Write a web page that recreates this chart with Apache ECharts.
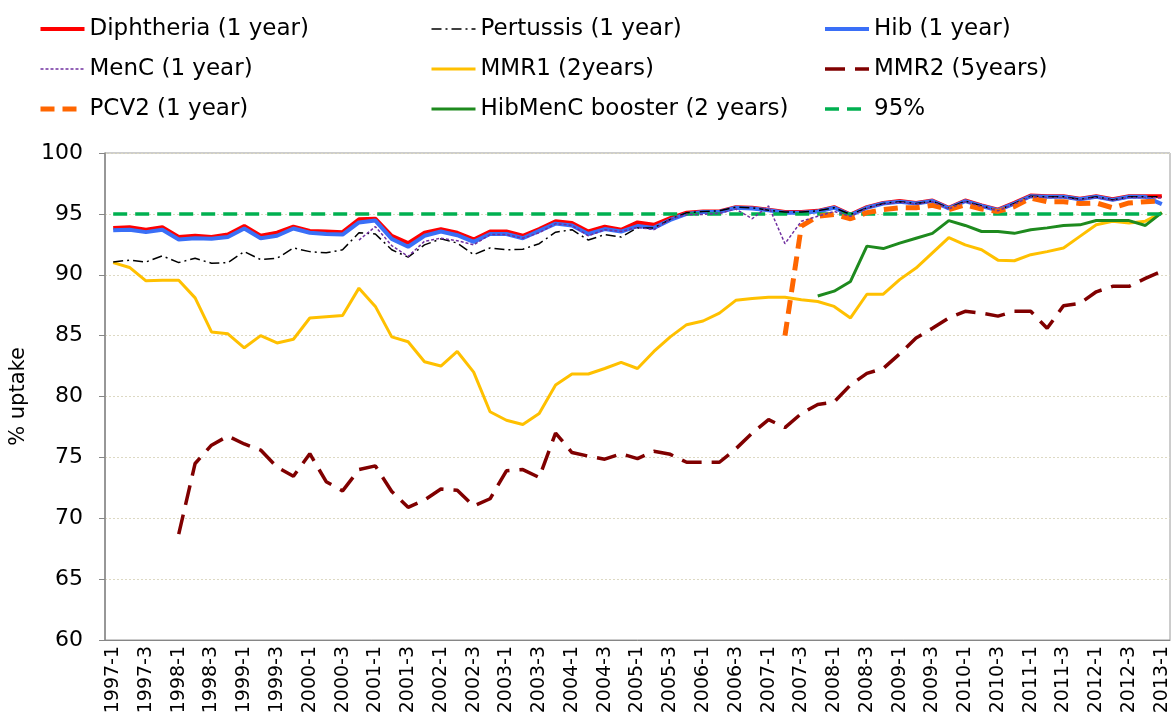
<!DOCTYPE html>
<html>
<head>
<meta charset="utf-8">
<script src="https://cdn.jsdelivr.net/npm/echarts@6/dist/echarts.min.js"></script>
<style>
  html, body { margin: 0; padding: 0; background: #fff; }
  #main { width: 1174px; height: 724px; }
</style>
</head>
<body>
<div id="main"></div>
<script>
// quarters 1997-1 .. 2013-1
const quarters = [];
for (let y = 1997; y <= 2013; y++) {
  for (let q = 1; q <= 4; q++) {
    if (y === 2013 && q > 1) break;
    quarters.push(y + '-' + q);
  }
}

const diphtheria = [93.85, 93.9, 93.7, 93.9, 93.1, 93.2, 93.1, 93.3, 94.0, 93.2, 93.45, 93.95, 93.6, 93.55, 93.5, 94.55, 94.6, 93.2, 92.6, 93.45, 93.75, 93.45, 92.9, 93.55, 93.55, 93.2, 93.75, 94.4, 94.25, 93.55, 93.95, 93.7, 94.3, 94.1, 94.65, 95.1, 95.2, 95.2, 95.55, 95.5, 95.35, 95.15, 95.15, 95.25, 95.55, 94.95, 95.55, 95.9, 96.05, 95.9, 96.1, 95.5, 96.1, 95.7, 95.35, 95.9, 96.5, 96.45, 96.45, 96.25, 96.45, 96.2, 96.45, 96.45, 96.45];
const pertussis = [91.05, 91.2, 91.05, 91.55, 91.0, 91.35, 90.95, 91.0, 91.9, 91.25, 91.35, 92.2, 91.9, 91.8, 92.05, 93.45, 93.35, 92.05, 91.45, 92.45, 92.95, 92.6, 91.65, 92.2, 92.05, 92.1, 92.55, 93.5, 93.7, 92.85, 93.3, 93.1, 93.85, 93.85, 94.55, 95.1, 95.2, 95.25, 95.55, 95.5, 95.3, 95.15, 95.15, 95.25, 95.5, 94.95, 95.5, 95.85, 96.0, 95.85, 96.05, 95.5, 96.05, 95.65, 95.3, 95.85, 96.45, 96.4, 96.4, 96.2, 96.4, 96.15, 96.4, 96.4, 96.4];
const hib = [93.65, 93.7, 93.5, 93.7, 92.9, 93.0, 92.95, 93.1, 93.8, 93.0, 93.2, 93.8, 93.45, 93.35, 93.3, 94.3, 94.45, 92.95, 92.3, 93.2, 93.55, 93.25, 92.7, 93.35, 93.35, 93.0, 93.6, 94.2, 94.05, 93.35, 93.75, 93.55, 94.0, 93.85, 94.5, 95.0, 95.15, 95.15, 95.5, 95.45, 95.3, 95.1, 95.1, 95.2, 95.5, 94.9, 95.5, 95.85, 96.0, 95.85, 96.05, 95.45, 96.05, 95.65, 95.3, 95.85, 96.45, 96.4, 96.4, 96.2, 96.4, 96.15, 96.4, 96.4, 95.8];
const menC = [null, null, null, null, null, null, null, null, null, null, null, null, null, null, null, 92.85, 93.95, 92.4, 91.5, 92.75, 93.0, 92.8, 92.45, 93.3, 93.3, 93.0, 93.45, 94.2, 94.05, 93.2, 93.7, 93.55, 93.9, 93.7, 94.55, 94.95, 94.95, 95.05, 95.4, 94.6, 95.65, 92.55, 94.4, 94.8, 95.2, 94.8, 95.45, 95.8, 95.95, 95.8, 96.0, 95.4, 96.0, 95.6, 95.25, 95.8, 96.4, 96.35, 96.35, 96.15, 96.35, 96.1, 96.35, 96.35, 96.3];
const mmr1 = [91.0, 90.6, 89.5, 89.55, 89.55, 88.1, 85.3, 85.15, 84.0, 85.0, 84.4, 84.7, 86.45, 86.55, 86.65, 88.9, 87.4, 84.9, 84.5, 82.85, 82.5, 83.7, 82.0, 78.75, 78.05, 77.7, 78.6, 80.95, 81.85, 81.85, 82.3, 82.8, 82.3, 83.7, 84.9, 85.9, 86.2, 86.85, 87.9, 88.05, 88.15, 88.15, 87.95, 87.8, 87.4, 86.45, 88.4, 88.4, 89.6, 90.55, 91.8, 93.05, 92.45, 92.05, 91.2, 91.15, 91.65, 91.9, 92.2, 93.15, 94.1, 94.4, 94.25, 94.4, 95.1];
const mmr2 = [null, null, null, null, 68.7, 74.5, 76.0, 76.75, 76.1, 75.6, 74.2, 73.45, 75.3, 73.0, 72.25, 74.0, 74.3, 72.2, 70.9, 71.5, 72.4, 72.3, 71.0, 71.6, 73.9, 74.0, 73.35, 77.0, 75.4, 75.1, 74.85, 75.3, 74.9, 75.5, 75.25, 74.6, 74.6, 74.6, 75.7, 77.0, 78.1, 77.45, 78.6, 79.35, 79.55, 80.95, 81.9, 82.3, 83.5, 84.8, 85.6, 86.45, 87.0, 86.85, 86.6, 87.0, 87.0, 85.6, 87.45, 87.65, 88.6, 89.05, 89.05, 89.7, 90.3];
const pcv2 = [null, null, null, null, null, null, null, null, null, null, null, null, null, null, null, null, null, null, null, null, null, null, null, null, null, null, null, null, null, null, null, null, null, null, null, null, null, null, null, null, null, 85.0, 94.0, 94.8, 94.95, 94.6, 95.1, 95.35, 95.5, 95.5, 95.7, 95.35, 95.75, 95.4, 95.2, 95.6, 96.3, 96.0, 96.0, 95.85, 95.9, 95.5, 95.9, 96.0, 96.05];
const hibMenC = [null, null, null, null, null, null, null, null, null, null, null, null, null, null, null, null, null, null, null, null, null, null, null, null, null, null, null, null, null, null, null, null, null, null, null, null, null, null, null, null, null, null, null, 88.25, 88.65, 89.45, 92.35, 92.15, 92.6, 93.0, 93.4, 94.45, 94.05, 93.55, 93.55, 93.4, 93.7, 93.85, 94.05, 94.1, 94.45, 94.45, 94.45, 94.05, 95.1];
const target95 = quarters.map(() => 95);

const FONT = 'DejaVu Sans';
const chart = echarts.init(document.getElementById('main'));

function line(name, data, color, width, type, z) {
  return {
    name: name,
    type: 'line',
    data: data,
    symbol: 'none',
    z: z,
    lineStyle: { color: color, width: width, type: type },
    itemStyle: { color: color },
    emphasis: { disabled: true }
  };
}

function legendCol(left, names) {
  return {
    orient: 'vertical',
    left: left,
    top: 17,
    padding: 0,
    itemWidth: 44,
    itemHeight: 14,
    itemGap: 16,
    selectedMode: false,
    itemStyle: { opacity: 0, borderWidth: 0 },
    lineStyle: { width: 'inherit' },
    textStyle: { fontFamily: FONT, fontSize: 23, color: '#000', lineHeight: 24 },
    data: names
  };
}

const option = {
  animation: false,
  backgroundColor: '#fff',
  legend: [
    legendCol(38, ['Diphtheria (1 year)', 'MenC (1 year)', 'PCV2 (1 year)']),
    legendCol(430, ['Pertussis (1 year)', 'MMR1 (2years)', 'HibMenC booster (2 years)']),
    legendCol(823, ['Hib (1 year)', 'MMR2 (5years)', '95%'])
  ],
  grid: {
    left: 105, right: 4, top: 153, bottom: 84,
    show: true, borderColor: '#9a9a9a', borderWidth: 1, backgroundColor: 'transparent'
  },
  xAxis: {
    type: 'category',
    data: quarters,
    boundaryGap: true,
    axisLine: { lineStyle: { color: '#868686', width: 1 } },
    axisTick: { interval: 0, length: 7, lineStyle: { color: '#868686' } },
    axisLabel: {
      interval: 1, rotate: 90, margin: 6,
      fontFamily: FONT, fontSize: 19, color: '#000'
    },
    splitLine: { show: false }
  },
  yAxis: {
    type: 'value',
    min: 60, max: 100, interval: 5,
    name: '% uptake',
    nameLocation: 'middle',
    nameRotate: 90,
    nameGap: 76,
    nameTextStyle: { fontFamily: FONT, fontSize: 21, color: '#000' },
    axisLine: { show: true, lineStyle: { color: '#868686', width: 1.5 } },
    axisTick: { show: true, length: 6, lineStyle: { color: '#868686' } },
    axisLabel: { fontFamily: FONT, fontSize: 22, color: '#000', margin: 22 },
    splitLine: { lineStyle: { color: '#ddd9c3', type: [2, 2], width: 1 } }
  },
  series: [
    line('Diphtheria (1 year)', diphtheria, '#ff0000', 4, 'solid', 2),
    line('Pertussis (1 year)', pertussis, '#000000', 1.5, [10, 4, 2, 4], 3),
    line('Hib (1 year)', hib, '#3a6ff7', 4, 'solid', 2),
    line('MenC (1 year)', menC, '#7030a0', 1.5, [3, 2], 4),
    line('MMR1 (2years)', mmr1, '#ffc000', 3, 'solid', 2),
    line('MMR2 (5years)', mmr2, '#800000', 3.5, [20, 10], 2),
    line('PCV2 (1 year)', pcv2, '#ff6600', 5, [14, 8], 3),
    line('HibMenC booster (2 years)', hibMenC, '#1e8a1e', 3, 'solid', 2),
    line('95%', target95, '#00b050', 3.5, [14, 8], 2)
  ]
};

chart.setOption(option);
</script>
</body>
</html>
